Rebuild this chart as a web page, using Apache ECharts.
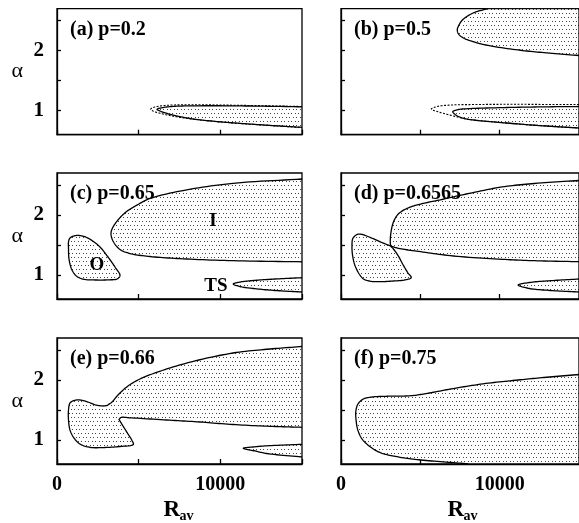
<!DOCTYPE html>
<html>
<head>
<meta charset="utf-8">
<script src="https://cdn.jsdelivr.net/npm/echarts@6/dist/echarts.min.js"></script>
<style>
  html, body { margin: 0; padding: 0; background: #fff; }
  #chart { width: 579px; height: 523px; }
</style>
</head>
<body>
<div id="chart"></div>
<script>
// ---- axes ----
const R_MIN = 0, R_MAX = 15000;
const R_TICKS = [0, 5000, 10000, 15000];
const R_LABELS = [0, 10000];
const ALPHA_MIN = 0.6, ALPHA_MAX = 2.7;
const ALPHA_TICKS = [1, 1.5, 2, 2.5];
const ALPHA_LABELS = [1, 2];
const PANEL_TITLES = ['(a) p=0.2', '(b) p=0.5', '(c) p=0.65', '(d) p=0.6565', '(e) p=0.66', '(f) p=0.75'];

// ---- region boundaries, [R_av, alpha] ----
// Each region is a list of smooth pieces joined end to end (corners between
// pieces stay sharp); the outline is closed with a straight segment.
// (a) p=0.2
const aDashed = [[15000,1.070],[11815,1.087],[8755,1.098],[7102,1.095],[6306,1.078],[5816,1.045],[5736,1.023],[5877,0.995],[6306,0.957],[7224,0.903],[8142,0.865],[9673,0.820],[11203,0.787],[13040,0.753],[15000,0.720]];
const aRegion = [[15000,1.065],[11815,1.078],[8755,1.082],[7224,1.073],[6490,1.053],[6122,1.023],[6306,0.995],[6918,0.94],[8142,0.870],[9673,0.822],[11203,0.789],[13040,0.755],[15000,0.722]];
// (b) p=0.5
const bDashed = [[15000,1.103],[13407,1.103],[10958,1.107],[8510,1.103],[6979,1.095],[6061,1.07],[5693,1.028],[6061,0.987],[6857,0.928],[7897,0.862],[9918,0.807],[11980,0.762],[13407,0.737],[15000,0.712]];
const bLower = [[15000,1.07],[12183,1.062],[9918,1.05],[7897,1.032],[7408,1.02],[7040,0.983],[7163,0.945],[7408,0.903],[7897,0.862],[9918,0.807],[11980,0.762],[13407,0.737],[15000,0.712]];
const bUpper = [[9226,2.70],[8326,2.628],[7653,2.512],[7377,2.395],[7328,2.345],[7408,2.278],[7714,2.212],[8100,2.17],[9122,2.095],[11161,2.012],[12795,1.967],[15000,1.92]];
const bUpperEdge = [[15000,1.92],[15000,2.7]];
// (c) p=0.65
const cI = [[15000,2.6],[10775,2.528],[7714,2.408],[5693,2.275],[4959,2.175],[4224,2.05],[3734,1.917],[3398,1.783],[3306,1.692],[3428,1.567],[3857,1.425],[4469,1.358],[5693,1.308],[7714,1.27],[10775,1.238],[15000,1.22]];
const cO = [[796,1.617],[1163,1.658],[1653,1.642],[2143,1.575],[2632,1.467],[3122,1.30],[3551,1.133],[3857,0.992],[3673,0.933],[3245,0.92],[2326,0.917],[1653,0.928],[1224,0.975],[918,1.083],[735,1.267],[704,1.45],[704,1.55]];
const cTS = [[15000,0.955],[13346,0.933],[12018,0.908],[11203,0.883],[10793,0.85],[11203,0.808],[12018,0.775],[13346,0.742],[15000,0.717]];
const cNames = [['O', 2449, 1.167], ['I', 9550, 1.9], ['TS', 9734, 0.82]];
// (d) p=0.6565
const dIUpper = [[15000,2.575],[12183,2.525],[10144,2.467],[7897,2.35],[6061,2.242],[5020,2.183],[4224,2.117],[3612,2.017],[3306,1.883],[3153,1.717],[3104,1.567],[3122,1.483]];
const dILower = [[3122,1.483],[3612,1.445],[5020,1.388],[7083,1.317],[10144,1.262],[12183,1.238],[15000,1.222]];
const dO = [[3122,1.483],[2571,1.542],[1775,1.633],[1347,1.675],[1041,1.678],[753,1.612],[692,1.483],[735,1.317],[918,1.133],[1365,0.945],[1775,0.90],[2388,0.888],[3306,0.90],[4022,0.917],[4426,0.958],[4224,1.033],[3918,1.167],[3612,1.317],[3306,1.433],[3122,1.483]];
const dTS = [[15000,0.933],[13205,0.905],[11877,0.875],[11161,0.833],[11877,0.775],[13205,0.742],[15000,0.717]];
// (e) p=0.66
const eUpper = [[15000,2.558],[13040,2.517],[10775,2.45],[8020,2.288],[6000,2.117],[5081,2.017],[4347,1.90],[3734,1.75],[3367,1.633],[3061,1.575]];
const eLobe = [[3061,1.575],[2816,1.567],[2388,1.583],[1898,1.633],[1408,1.667],[1041,1.658],[796,1.617],[704,1.50],[704,1.333],[796,1.167],[1041,1.033],[1408,0.933],[2020,0.878],[2939,0.875],[3857,0.892],[4671,0.925],[4592,0.992],[4347,1.10],[4041,1.233],[3796,1.342]];
const eLower = [[3796,1.342],[3918,1.375],[4469,1.37],[6716,1.333],[8755,1.30],[10775,1.258],[13040,1.228],[15000,1.212]];
const eTS = [[15000,0.928],[12838,0.903],[12122,0.887],[11405,0.862],[12122,0.817],[12838,0.775],[15000,0.717]];
// (f) p=0.75
const fRegion = [[15000,2.092],[12795,2.042],[11161,2.0],[9122,1.942],[7083,1.858],[5449,1.778],[4426,1.738],[3000,1.73],[1977,1.717],[1408,1.683],[1071,1.60],[937,1.483],[949,1.333],[1059,1.167],[1286,1.033],[1573,0.945],[2082,0.842],[2590,0.778],[3612,0.717],[5038,0.667],[7083,0.622],[8204,0.6]];
const fEdge = [[8204,0.6],[15000,0.6]];

// regions per panel (loop: outline closes smoothly on itself)
const PANELS = [
  { fills: [{ pieces: [aRegion] }], dashes: [aDashed], names: [] },
  { fills: [{ pieces: [bUpper, bUpperEdge] }, { pieces: [bLower] }], dashes: [bDashed], names: [] },
  { fills: [{ pieces: [cI] }, { pieces: [cO], loop: true }, { pieces: [cTS] }], dashes: [], names: cNames },
  { fills: [{ pieces: [dIUpper, dILower] }, { pieces: [dO] }, { pieces: [dTS] }], dashes: [], names: [] },
  { fills: [{ pieces: [eUpper, eLobe, eLower] }, { pieces: [eTS] }], dashes: [], names: [] },
  { fills: [{ pieces: [fRegion, fEdge] }], dashes: [], names: [] }
];

const SERIF = '"Liberation Serif", "Times New Roman", serif';

// centripetal Catmull-Rom through pixel points
function spline(pts, loop, steps) {
  const n = pts.length;
  if (n < 3) return pts.slice();
  const get = function (k) {
    if (loop) return pts[(k + n) % n];
    if (k < 0) return [2 * pts[0][0] - pts[1][0], 2 * pts[0][1] - pts[1][1]];
    if (k > n - 1) return [2 * pts[n - 1][0] - pts[n - 2][0], 2 * pts[n - 1][1] - pts[n - 2][1]];
    return pts[k];
  };
  const dist = function (p, q) { return Math.pow(Math.hypot(q[0] - p[0], q[1] - p[1]), 0.5) || 1e-4; };
  const out = [];
  const segs = loop ? n : n - 1;
  for (let i = 0; i < segs; i++) {
    const p0 = get(i - 1), p1 = get(i), p2 = get(i + 1), p3 = get(i + 2);
    const t0 = 0, t1 = t0 + dist(p0, p1), t2 = t1 + dist(p1, p2), t3 = t2 + dist(p2, p3);
    for (let s = 0; s < steps; s++) {
      const t = t1 + (t2 - t1) * s / steps;
      const lerp = function (A, B, ta, tb) {
        const u = (t - ta) / (tb - ta);
        return [A[0] + (B[0] - A[0]) * u, A[1] + (B[1] - A[1]) * u];
      };
      const A1 = lerp(p0, p1, t0, t1), A2 = lerp(p1, p2, t1, t2), A3 = lerp(p2, p3, t2, t3);
      const B1 = lerp(A1, A2, t0, t2), B2 = lerp(A2, A3, t1, t3);
      out.push(lerp(B1, B2, t1, t2));
    }
  }
  if (!loop) out.push(pts[n - 1]);
  return out;
}

// stippled fill used inside every region
function makeDots() {
  const c = document.createElement('canvas');
  c.width = 7; c.height = 8;
  const g = c.getContext('2d');
  g.fillStyle = '#fff';
  g.fillRect(0, 0, 7, 8);
  g.fillStyle = '#444';
  g.fillRect(1, 1, 1, 1);
  g.fillRect(4, 1, 1, 1);
  g.fillRect(2, 5, 1, 1);
  g.fillRect(6, 5, 1, 1);
  return c;
}
const DOTS = { image: makeDots(), repeat: 'repeat' };

const chart = echarts.init(document.getElementById('chart'), null, { renderer: 'canvas' });

const GRID_LEFT = [57, 341];
const GRID_TOP = [8.7, 173, 338];
const GRID_W = 245, GRID_H = 126;

const grids = [], xAxes = [], yAxes = [], series = [], titles = [], graphics = [];
for (let i = 0; i < 6; i++) {
  const col = i % 2, row = Math.floor(i / 2);
  const bottom = row === 2;
  grids.push({
    left: GRID_LEFT[col], top: GRID_TOP[row], width: GRID_W, height: GRID_H,
    show: true, borderColor: '#000', borderWidth: 1.3, backgroundColor: 'transparent'
  });
  xAxes.push({
    type: 'value', gridIndex: i, min: R_MIN, max: R_MAX, interval: 5000,
    axisLine: { show: true, onZero: false, lineStyle: { color: '#000', width: 1.3 } },
    axisTick: { show: true, inside: true, length: 5, customValues: R_TICKS, lineStyle: { color: '#000', width: 1.3 } },
    axisLabel: {
      show: bottom, customValues: R_LABELS, margin: 11,
      formatter: function (v) { return String(v); },
      fontFamily: SERIF, fontWeight: 'bold', fontSize: 20, color: '#000'
    },
    splitLine: { show: false }
  });
  yAxes.push({
    type: 'value', gridIndex: i, min: ALPHA_MIN, max: ALPHA_MAX,
    axisLine: { show: true, onZero: false, lineStyle: { color: '#000', width: 1.3 } },
    axisTick: { show: true, inside: true, length: 4, customValues: ALPHA_TICKS, lineStyle: { color: '#000', width: 1.3 } },
    axisLabel: {
      show: col === 0, customValues: ALPHA_LABELS, margin: 13,
      fontFamily: SERIF, fontWeight: 'bold', fontSize: 21, color: '#000'
    },
    splitLine: { show: false },
    name: col === 0 ? 'α' : '', nameLocation: 'middle', nameRotate: 0, nameGap: 34,
    nameTextStyle: { fontFamily: SERIF, fontSize: 22, color: '#000' }
  });
  titles.push({
    text: PANEL_TITLES[i], left: GRID_LEFT[col] + 13, top: GRID_TOP[row] + 11, padding: 0,
    textStyle: { fontFamily: SERIF, fontWeight: 'bold', fontSize: 20, color: '#000' }
  });
  if (bottom) {
    // axis title R_av with subscript, centred under the panel
    const cx = GRID_LEFT[col] + GRID_W / 2;
    graphics.push({
      type: 'text', left: cx - 16, top: 499,
      style: { text: 'R', font: 'bold 23px ' + SERIF, fill: '#000' }
    });
    graphics.push({
      type: 'text', left: cx, top: 509,
      style: { text: 'av', font: 'bold 14px ' + SERIF, fill: '#000' }
    });
  }
  const panel = PANELS[i];
  series.push({
    type: 'custom', xAxisIndex: i, yAxisIndex: i, clip: true, silent: true,
    data: [[R_MIN, ALPHA_MIN]],
    renderItem: function (params, api) {
      const px = function (pts) { return pts.map(function (p) { return api.coord(p); }); };
      const children = [];
      panel.fills.forEach(function (region) {
        let outline = [];
        region.pieces.forEach(function (piece) {
          const seg = spline(px(piece), !!region.loop, 12);
          outline = outline.concat(outline.length ? seg.slice(1) : seg);
        });
        children.push({
          type: 'polygon',
          shape: { points: outline },
          style: { fill: DOTS, stroke: '#000', lineWidth: 1.3, lineJoin: 'round' }
        });
      });
      panel.dashes.forEach(function (pts) {
        children.push({
          type: 'polyline',
          shape: { points: spline(px(pts), false, 12) },
          style: { fill: null, stroke: '#000', lineWidth: 1.1, lineDash: [2, 1.5] }
        });
      });
      panel.names.forEach(function (n) {
        const pt = api.coord([n[1], n[2]]);
        children.push({
          type: 'text', x: pt[0], y: pt[1],
          style: {
            text: n[0], align: 'center', verticalAlign: 'middle',
            font: 'bold 19px ' + SERIF, fill: '#000'
          }
        });
      });
      return { type: 'group', children: children };
    }
  });
}

chart.setOption({
  animation: false,
  backgroundColor: '#fff',
  title: titles,
  grid: grids,
  xAxis: xAxes,
  yAxis: yAxes,
  graphic: graphics,
  series: series
});
</script>
</body>
</html>
